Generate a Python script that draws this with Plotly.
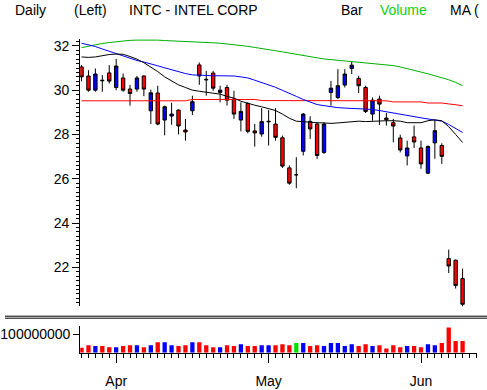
import plotly.graph_objects as go
import pandas as pd

W, H = 487, 390

dates = [
    "2002-03-22", "2002-03-25", "2002-03-26", "2002-03-27", "2002-03-28",
    "2002-04-01", "2002-04-02", "2002-04-03", "2002-04-04", "2002-04-05",
    "2002-04-08", "2002-04-09", "2002-04-10", "2002-04-11", "2002-04-12",
    "2002-04-15", "2002-04-16", "2002-04-17", "2002-04-18", "2002-04-19",
    "2002-04-22", "2002-04-23", "2002-04-24", "2002-04-25", "2002-04-26",
    "2002-04-29", "2002-04-30", "2002-05-01", "2002-05-02", "2002-05-03",
    "2002-05-06", "2002-05-07", "2002-05-08", "2002-05-09", "2002-05-10",
    "2002-05-13", "2002-05-14", "2002-05-15", "2002-05-16", "2002-05-17",
    "2002-05-20", "2002-05-21", "2002-05-22", "2002-05-23", "2002-05-24",
    "2002-05-28", "2002-05-29", "2002-05-30", "2002-05-31", "2002-06-03",
    "2002-06-04", "2002-06-05", "2002-06-06", "2002-06-07", "2002-06-10",
    "2002-06-11",
]

open_ = [31.05, 30.64, 30.00, 30.45, 30.78, 30.12, 30.55, 30.05, 30.05, 30.64,
         29.07, 29.87, 28.65, 28.83, 29.10, 28.20, 29.07, 31.14, 30.49, 30.77,
         29.90, 30.12, 29.60, 28.65, 29.40, 28.16, 28.02, 28.57, 28.47, 27.85,
         26.49, 26.18, 27.24, 28.59, 28.47, 27.19, 29.90, 29.67, 30.23, 30.98,
         30.53, 30.12, 28.92, 29.60, 28.74, 28.53, 27.84, 27.03, 27.89, 27.39,
         26.25, 27.62, 27.50, 22.39, 22.32, 21.49]
high = [31.13, 30.90, 30.98, 30.68, 31.13, 31.41, 30.75, 30.23, 30.64, 30.66,
        30.03, 30.20, 29.30, 29.43, 29.13, 28.70, 29.75, 31.25, 30.87, 30.87,
        30.20, 30.24, 29.97, 29.45, 29.45, 28.47, 29.19, 29.10, 29.19, 27.95,
        26.60, 26.97, 28.97, 28.82, 28.55, 28.55, 30.42, 30.95, 30.95, 31.28,
        30.65, 30.20, 29.67, 29.75, 28.97, 28.70, 27.99, 27.72, 28.40, 27.72,
        27.50, 28.65, 27.60, 22.80, 22.35, 21.94]
low = [30.40, 29.93, 29.93, 29.93, 30.30, 30.00, 29.93, 29.30, 29.93, 29.73,
       28.47, 28.41, 27.96, 28.44, 28.00, 27.72, 28.88, 30.24, 29.75, 29.97,
       29.45, 29.30, 28.70, 28.14, 28.05, 27.45, 27.90, 27.50, 27.72, 26.49,
       25.73, 25.57, 27.05, 27.80, 26.90, 27.12, 29.30, 29.60, 30.12, 30.73,
       29.87, 28.97, 28.62, 28.43, 28.40, 27.64, 27.19, 26.60, 27.39, 26.45,
       26.22, 26.90, 26.67, 21.74, 21.04, 20.21]
close = [30.60, 30.00, 30.73, 30.43, 30.41, 31.09, 30.00, 29.85, 30.55, 30.05,
         29.88, 28.47, 29.25, 28.92, 28.38, 28.11, 29.48, 30.64, 30.47, 30.09,
         30.00, 29.55, 28.92, 29.04, 28.14, 28.07, 28.58, 28.59, 27.87, 26.57,
         25.80, 26.18, 28.92, 28.25, 27.05, 28.47, 30.09, 30.20, 30.73, 31.13,
         30.20, 29.04, 29.55, 29.37, 28.67, 28.38, 27.30, 27.39, 27.66, 26.67,
         27.46, 28.17, 27.01, 22.06, 21.18, 20.33]

volume_m = [27, 41, 36, 36, 30, 30, 36, 41, 41, 30,
            41, 57, 57, 41, 36, 41, 57, 57, 41, 30,
            30, 41, 36, 46, 36, 36, 41, 41, 41, 46,
            41, 52, 52, 36, 41, 36, 52, 52, 36, 46,
            36, 46, 36, 41, 23, 41, 30, 36, 36, 30,
            46, 41, 52, 136, 63, 63]

ma_black = [31.50, 31.48, 31.50, 31.57, 31.61, 31.63, 31.62, 31.52, 31.40, 31.24,
            31.05, 30.84, 30.60, 30.42, 30.24, 30.12, 30.00, 29.95, 29.90, 29.86,
            29.82, 29.72, 29.64, 29.50, 29.40, 29.32, 29.25, 29.18, 29.08, 28.92,
            28.73, 28.60, 28.57, 28.55, 28.53, 28.52, 28.50, 28.52, 28.55, 28.60,
            28.60, 28.58, 28.60, 28.62, 28.62, 28.62, 28.60, 28.53, 28.52, 28.53,
            28.62, 28.66, 28.62, 28.35, 28.00, 27.64]
ma_blue = [32.12, 32.05, 31.97, 31.86, 31.75, 31.65, 31.54, 31.42, 31.34, 31.27,
           31.20, 31.10, 31.01, 30.92, 30.82, 30.75, 30.69, 30.67, 30.66, 30.65,
           30.65, 30.65, 30.64, 30.60, 30.55, 30.45, 30.35, 30.25, 30.13, 29.99,
           29.84, 29.72, 29.58, 29.45, 29.35, 29.30, 29.25, 29.21, 29.19, 29.18,
           29.17, 29.16, 29.13, 29.08, 29.02, 28.96, 28.90, 28.85, 28.80, 28.75,
           28.70, 28.66, 28.60, 28.45, 28.28, 28.09]
ma_green = [31.92, 31.99, 32.05, 32.11, 32.15, 32.19, 32.22, 32.25, 32.26, 32.27,
            32.27, 32.26, 32.24, 32.23, 32.21, 32.20, 32.18, 32.17, 32.16, 32.14,
            32.12, 32.09, 32.06, 32.02, 31.98, 31.93, 31.89, 31.83, 31.78, 31.73,
            31.67, 31.62, 31.57, 31.52, 31.46, 31.41, 31.38, 31.36, 31.33, 31.30,
            31.27, 31.24, 31.20, 31.17, 31.14, 31.11, 31.05, 30.98, 30.90, 30.82,
            30.74, 30.65, 30.57, 30.47, 30.35, 30.20]
ma_red = [29.52, 29.52, 29.52, 29.52, 29.52, 29.52, 29.52, 29.52, 29.52, 29.52,
          29.52, 29.52, 29.52, 29.52, 29.52, 29.52, 29.58, 29.58, 29.58, 29.58,
          29.58, 29.58, 29.58, 29.58, 29.58, 29.58, 29.53, 29.53, 29.53, 29.53,
          29.53, 29.53, 29.53, 29.53, 29.53, 29.52, 29.52, 29.52, 29.52, 29.52,
          29.52, 29.52, 29.52, 29.52, 29.52, 29.47, 29.47, 29.47, 29.47, 29.47,
          29.42, 29.42, 29.42, 29.38, 29.34, 29.30]

title_items = [("Daily", 10, "black"), ("(Left)", 70, "black"),
               ("INTC - INTEL CORP", 125, "black"), ("Bar", 339, "black"),
               ("Volume", 379, "#10d010"), ("MA (", 450, "black")]

UP, DOWN, FLAT = "#0000ff", "#ff0000", "#00e000"

x = list(range(len(dates)))
dt = pd.to_datetime(pd.Series(dates))
month_idx = [i for i in range(1, len(dates)) if dt[i].month != dt[i - 1].month]
month_txt = [dt[i].strftime("%b") for i in month_idx]

vol_colors = [UP if c > o else (DOWN if c < o else FLAT) for o, c in zip(open_, close)]
volume = [v * 1e6 for v in volume_m]

def px_x(p):
    return p / W

def px_y(p):
    return 1 - p / H

fig = go.Figure()

for vals, col in [(ma_red, "#ff0000"), (ma_green, "#00b000"),
                  (ma_blue, "#0000ff"), (ma_black, "#000000")]:
    fig.add_trace(go.Scatter(x=x, y=vals, mode="lines",
                             line=dict(color=col, width=1),
                             hoverinfo="skip", showlegend=False,
                             xaxis="x", yaxis="y"))

fig.add_trace(go.Candlestick(
    x=x, open=open_, high=high, low=low, close=close,
    increasing=dict(line=dict(color="black", width=1), fillcolor=UP),
    decreasing=dict(line=dict(color="black", width=1), fillcolor=DOWN),
    whiskerwidth=0, showlegend=False, xaxis="x", yaxis="y"))

fig.add_trace(go.Bar(x=x, y=volume, marker=dict(color=vol_colors, line=dict(width=0)),
                     width=0.62, showlegend=False, xaxis="x", yaxis="y2",
                     hoverinfo="skip"))

x0 = -0.19
x1 = x0 + (477 - 76) / 7.0

fig.update_layout(
    width=W, height=H, autosize=False,
    margin=dict(l=0, r=0, t=0, b=0),
    paper_bgcolor="white", plot_bgcolor="white",
    font=dict(family="Liberation Sans", size=14, color="black"),
    showlegend=False,
    xaxis=dict(domain=[px_x(76), px_x(477)], range=[x0, x1], anchor="y2",
               showline=True, linecolor="black", linewidth=1,
               ticks="outside", ticklen=9, tickcolor="black", tickwidth=1,
               tickmode="array", tickvals=month_idx, ticktext=month_txt,
               ticklabelstandoff=6,
               minor=dict(ticks="outside", ticklen=4, tickcolor="black",
                          tickmode="linear", tick0=0, dtick=1),
               showgrid=False, zeroline=False, rangeslider=dict(visible=False),
               tickfont=dict(size=14)),
    yaxis=dict(domain=[px_y(306), px_y(38)], range=[20.243, 32.315], anchor="x",
               showline=True, linecolor="black", linewidth=1,
               ticks="outside", ticklen=7, tickcolor="black",
               tick0=0, dtick=2,
               minor=dict(ticks="outside", ticklen=3, tickcolor="black",
                          tick0=0, dtick=0.2),
               showgrid=False, zeroline=False, tickfont=dict(size=14)),
    yaxis2=dict(domain=[px_y(352.7), px_y(326)], range=[0, 1.43e8], anchor="x",
                showline=True, linecolor="black", linewidth=1,
                ticks="outside", ticklen=6, tickcolor="black",
                tickmode="array", tickvals=[1e8], ticktext=["100000000"],
                showgrid=False, zeroline=False, tickfont=dict(size=14)),
)

for yy in (316, 318):
    fig.add_shape(type="line", xref="paper", yref="paper",
                  x0=0, x1=1, y0=px_y(yy), y1=px_y(yy),
                  line=dict(color="black", width=1))

for txt, xp, col in title_items:
    fig.add_annotation(text=txt, x=px_x(xp), y=px_y(9), xref="paper", yref="paper",
                       xanchor="left", yanchor="middle", showarrow=False,
                       font=dict(size=14, color=col), xshift=-2)

fig.write_html("out.html",
               config={"displayModeBar": False},
               post_script="document.body.style.margin='0';document.body.style.padding='0';document.body.style.overflow='hidden';")
